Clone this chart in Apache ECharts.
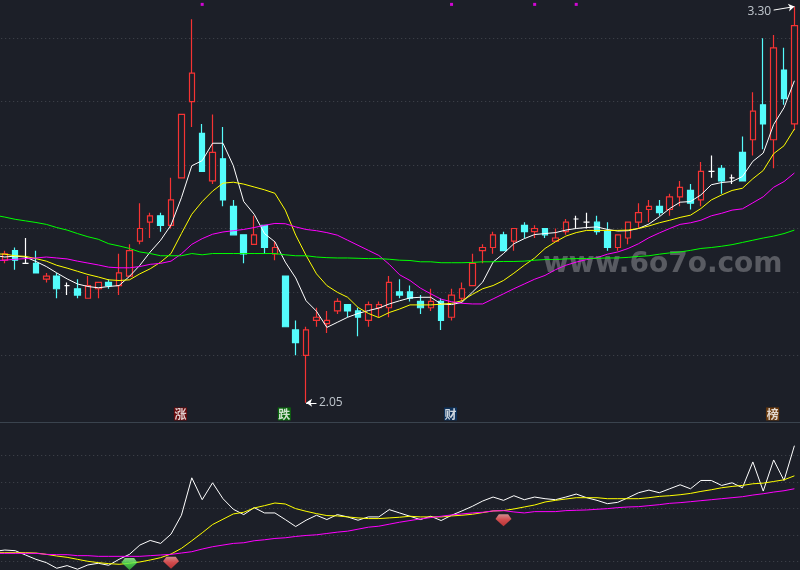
<!DOCTYPE html>
<html><head><meta charset="utf-8">
<style>html,body{margin:0;padding:0;background:#1c1f28;overflow:hidden;width:800px;height:570px}#c{width:811px;height:570px;margin-left:-11px}</style>
<script src="https://cdn.jsdelivr.net/npm/echarts@6/dist/echarts.min.js"></script>
</head><body><div id="c"></div>
<script>
const opens=[2.50,2.53,2.49,2.49,2.44,2.45,2.42,2.41,2.38,2.41,2.43,2.42,2.45,2.56,2.62,2.64,2.61,2.76,3.00,2.90,2.75,2.82,2.67,2.58,2.55,2.61,2.52,2.45,2.28,2.20,2.31,2.30,2.34,2.36,2.34,2.31,2.35,2.35,2.40,2.40,2.37,2.35,2.37,2.32,2.38,2.42,2.53,2.54,2.58,2.56,2.61,2.59,2.60,2.56,2.59,2.63,2.62,2.62,2.59,2.54,2.57,2.62,2.66,2.67,2.66,2.70,2.72,2.69,2.78,2.79,2.76,2.84,2.88,2.99,2.88,3.10,2.93];
const closes=[2.52,2.50,2.49,2.46,2.45,2.41,2.42,2.39,2.42,2.43,2.42,2.46,2.53,2.60,2.64,2.61,2.69,2.96,3.09,2.78,2.84,2.69,2.58,2.52,2.58,2.54,2.54,2.29,2.24,2.28,2.32,2.31,2.37,2.34,2.32,2.36,2.36,2.43,2.39,2.38,2.35,2.37,2.31,2.39,2.41,2.49,2.54,2.58,2.53,2.60,2.59,2.60,2.58,2.57,2.62,2.63,2.62,2.59,2.54,2.58,2.62,2.65,2.67,2.65,2.70,2.73,2.68,2.78,2.78,2.75,2.76,2.75,2.97,2.93,3.17,3.01,3.24];
const lows=[2.49,2.47,2.49,2.46,2.43,2.38,2.39,2.38,2.38,2.38,2.41,2.39,2.45,2.55,2.57,2.59,2.60,2.76,2.92,2.78,2.74,2.67,2.58,2.49,2.55,2.52,2.50,2.29,2.20,2.05,2.29,2.27,2.33,2.32,2.26,2.29,2.32,2.32,2.38,2.37,2.33,2.34,2.28,2.31,2.37,2.42,2.49,2.52,2.53,2.53,2.57,2.57,2.57,2.56,2.58,2.60,2.60,2.58,2.53,2.53,2.55,2.60,2.62,2.64,2.64,2.67,2.66,2.67,2.76,2.71,2.74,2.75,2.83,2.85,2.79,2.99,2.91];
const highs=[2.53,2.54,2.57,2.53,2.46,2.46,2.43,2.44,2.45,2.43,2.44,2.52,2.55,2.68,2.65,2.65,2.76,2.96,3.26,2.93,2.96,2.92,2.69,2.58,2.64,2.61,2.56,2.45,2.31,2.29,2.35,2.34,2.38,2.36,2.35,2.37,2.37,2.45,2.44,2.42,2.39,2.41,2.38,2.41,2.43,2.52,2.55,2.59,2.59,2.60,2.62,2.61,2.60,2.60,2.63,2.64,2.65,2.64,2.62,2.58,2.62,2.68,2.69,2.69,2.71,2.75,2.74,2.81,2.83,2.80,2.77,2.89,3.03,3.20,3.21,3.17,3.30];
const ma5=[2.515,2.510,2.513,2.510,2.496,2.480,2.460,2.441,2.425,2.417,2.413,2.417,2.420,2.449,2.484,2.526,2.563,2.611,2.697,2.798,2.814,2.869,2.869,2.798,2.685,2.645,2.584,2.558,2.494,2.444,2.372,2.339,2.288,2.304,2.320,2.332,2.341,2.349,2.362,2.372,2.381,2.383,2.383,2.362,2.360,2.367,2.399,2.431,2.494,2.521,2.552,2.568,2.581,2.584,2.587,2.595,2.600,2.603,2.605,2.597,2.592,2.593,2.600,2.614,2.637,2.663,2.683,2.685,2.706,2.738,2.745,2.748,2.764,2.812,2.838,2.928,2.981,3.066];
const ma10=[2.520,2.519,2.514,2.512,2.505,2.497,2.484,2.475,2.465,2.455,2.447,2.438,2.436,2.438,2.457,2.473,2.494,2.521,2.584,2.645,2.685,2.718,2.743,2.746,2.740,2.731,2.722,2.711,2.658,2.579,2.515,2.457,2.420,2.399,2.383,2.351,2.332,2.319,2.335,2.346,2.359,2.359,2.359,2.361,2.364,2.372,2.392,2.410,2.420,2.436,2.459,2.484,2.507,2.537,2.558,2.576,2.587,2.594,2.594,2.594,2.594,2.595,2.600,2.608,2.618,2.626,2.635,2.642,2.663,2.690,2.706,2.720,2.727,2.757,2.783,2.836,2.861,2.914];
const ma20=[2.499,2.500,2.503,2.505,2.507,2.510,2.507,2.504,2.497,2.491,2.485,2.478,2.476,2.476,2.480,2.487,2.490,2.497,2.520,2.550,2.568,2.582,2.589,2.593,2.597,2.603,2.610,2.616,2.615,2.605,2.597,2.593,2.587,2.579,2.563,2.547,2.531,2.515,2.487,2.454,2.436,2.412,2.394,2.377,2.369,2.364,2.362,2.362,2.378,2.394,2.410,2.425,2.440,2.452,2.470,2.484,2.494,2.502,2.508,2.519,2.526,2.537,2.552,2.571,2.586,2.600,2.613,2.618,2.626,2.640,2.648,2.658,2.662,2.681,2.700,2.730,2.748,2.775];
const ma60=[2.642,2.636,2.629,2.624,2.619,2.613,2.603,2.595,2.584,2.574,2.566,2.552,2.545,2.537,2.526,2.521,2.514,2.514,2.514,2.521,2.517,2.521,2.521,2.521,2.521,2.521,2.521,2.521,2.517,2.514,2.514,2.510,2.508,2.507,2.507,2.506,2.505,2.505,2.503,2.500,2.499,2.495,2.495,2.492,2.492,2.492,2.493,2.495,2.495,2.496,2.496,2.497,2.500,2.502,2.502,2.504,2.505,2.505,2.506,2.507,2.507,2.509,2.512,2.514,2.519,2.523,2.526,2.531,2.537,2.540,2.544,2.549,2.556,2.563,2.570,2.576,2.584,2.595];
const subWhite=[130,134,132,119,106,96,79,87,76,89,94,88,106,121,149,163,154,182,239,352,286,337,289,257,241,262,246,246,226,205,224,239,226,241,234,224,234,234,256,246,236,226,236,223,239,252,266,282,294,284,298,286,294,289,286,294,303,292,284,274,278,292,307,315,307,319,331,319,344,344,329,337,322,400,312,406,344,449];
const subYellow=[126,126,126,126,125,121,116,112,106,100,96,93,91,94,98,104,111,122,139,162,186,211,227,243,248,261,268,276,273,259,251,244,238,237,234,231,229,229,231,233,236,234,234,234,237,239,242,247,252,253,258,264,270,279,284,288,292,292,292,289,289,289,289,292,296,298,301,305,311,316,322,326,329,334,336,341,346,358];
const subMagenta=[124,124,124,124,124,121,120,120,117,117,115,115,115,115,115,117,119,121,125,129,137,144,149,154,156,162,165,169,171,175,178,180,184,188,191,197,203,206,212,218,223,228,232,236,240,243,246,248,252,253,249,246,250,250,250,253,254,255,257,259,262,264,265,268,271,275,277,280,283,286,289,292,295,300,304,309,313,319];
const dotIdx=[19,43,51,55];
const tagIdx=[17,27,43,74];
const tagText=['涨','跌','财','榜'];
const tagColors=['#7b0505','#067a06','#0b3768','#7e4005'];
const greenGem=[[12,92]];
const redGem=[[16,96],[48,224]];
const lowIdx=29, lowVal=2.05, highIdx=76, highVal=3.30;
const wmText='www.6o7o.com';
// one lead-in bar sits just off the left edge so the averages reach x=0
const LEAD=1, SUB_BASE=20, SHIFT=11;
const categories=['lead'].concat(opens.map((_,i)=>String(i)));

const BG='#1c1f28',RED='#f53333',CYAN='#54fcfc';
const gem='path://M5 0 L19 0 L24 7 L12 18 L0 7 Z';
const sub=a=>a.map(v=>v-SUB_BASE);
const at=(i,v)=>[i+LEAD,v];
const line=(name,data,color,x)=>({name,type:'line',data,xAxisIndex:x,yAxisIndex:x,showSymbol:false,symbol:'none',smooth:false,silent:true,z:4,clip:false,
  lineStyle:{color,width:1}});
const chart=echarts.init(document.getElementById('c'),null,{renderer:'canvas'});
const split=(minLine)=>({show:true,lineStyle:{color:'#43474f',type:[1,3],width:1},showMinLine:minLine,showMaxLine:false});
const xa=(i)=>({type:'category',gridIndex:i,data:categories,boundaryGap:true,axisLine:{show:false},axisTick:{show:false},axisLabel:{show:false},splitLine:{show:false}});
chart.setOption({
  animation:false,backgroundColor:BG,
  grid:[{left:0.2,width:810.4,top:0,height:418.7},{left:0.2,width:810.4,top:428.8,height:132.5}],
  xAxis:[xa(0),xa(1)],
  yAxis:[
    {type:'value',gridIndex:0,min:2.0,max:3.3208,interval:0.2,axisLine:{show:false},axisTick:{show:false},axisLabel:{show:false},splitLine:split(false)},
    {type:'value',gridIndex:1,min:80,max:480,interval:80,axisLine:{show:false},axisTick:{show:false},axisLabel:{show:false},splitLine:split(true)}
  ],
  graphic:[
    {type:'rect',silent:true,z:1,shape:{x:0,y:422,width:811,height:1},style:{fill:'#3a434e'}},
    {type:'text',silent:true,z:1,x:543+SHIFT,y:251,style:{text:wmText,fill:'rgba(255,255,255,0.27)',font:'bold 28px "DejaVu Sans"'}}
  ],
  series:[
    {type:'candlestick',xAxisIndex:0,yAxisIndex:0,barWidth:6,z:3,silent:true,clip:false,
     data:[['-','-','-','-']].concat(opens.map((o,i)=>[o,closes[i],lows[i],highs[i]])),
     itemStyle:{color:BG,color0:CYAN,borderColor:RED,borderColor0:CYAN,borderColorDoji:'#ffffff',borderWidth:1.2}},
    line('MA5',ma5,'#ffffff',0),
    line('MA10',ma10,'#ffff00',0),
    line('MA20',ma20,'#ff00ff',0),
    line('MA60',ma60,'#00ff00',0),
    {type:'scatter',xAxisIndex:0,yAxisIndex:0,symbol:'rect',symbolSize:3,silent:true,z:5,itemStyle:{color:'#ff00ff'},data:dotIdx.map(i=>at(i,3.307))},
    {type:'scatter',xAxisIndex:0,yAxisIndex:0,symbolSize:1,silent:true,z:6,itemStyle:{color:'rgba(0,0,0,0)'},
     data:tagIdx.map((i,k)=>({value:at(i,2.015),name:tagText[k],label:{backgroundColor:tagColors[k]}})),
     label:{show:true,position:'inside',formatter:p=>p.name,color:'#ffffff',fontWeight:'bold',fontFamily:'"Noto Sans CJK SC"',fontSize:12,width:13,height:13,lineHeight:13,align:'center',verticalAlign:'middle',offset:[-1,0]}},
    {type:'scatter',xAxisIndex:0,yAxisIndex:0,symbolSize:1,silent:true,z:6,itemStyle:{color:'rgba(0,0,0,0)'},
     data:[{value:at(lowIdx+1,lowVal),name:lowVal.toFixed(2),label:{position:'right',distance:2}},{value:at(highIdx-2,3.283),name:highVal.toFixed(2),label:{position:'left',distance:2}}],
     label:{show:true,formatter:p=>p.name,color:'#e6eef4',fontFamily:'"Open Sans"',fontSize:12}},
    {type:'line',xAxisIndex:0,yAxisIndex:0,data:[],silent:true,z:6,
     markLine:{silent:true,animation:false,symbol:['none','arrow'],symbolSize:6,label:{show:false},lineStyle:{color:'#ffffff',width:1,type:'solid'},
       data:[[{coord:at(lowIdx+1,lowVal)},{coord:at(lowIdx,lowVal)}],[{coord:at(highIdx-2,3.289)},{coord:at(highIdx,highVal)}]]}},
    line('W',sub(subWhite),'#ffffff',1),
    line('Y',sub(subYellow),'#ffff00',1),
    line('M',sub(subMagenta),'#ff00ff',1),
    {type:'scatter',xAxisIndex:1,yAxisIndex:1,symbol:gem,symbolSize:[16,12],silent:true,z:7,clip:false,itemStyle:{color:new echarts.graphic.LinearGradient(0,0,0,1,[{offset:0,color:'#a8ff98'},{offset:.45,color:'#55e855'},{offset:1,color:'#35b835'}])},data:greenGem.map(d=>at(d[0],d[1]-SUB_BASE))},
    {type:'scatter',xAxisIndex:1,yAxisIndex:1,symbol:gem,symbolSize:[16,12],silent:true,z:7,clip:false,itemStyle:{color:new echarts.graphic.LinearGradient(0,0,0,1,[{offset:0,color:'#ffa8a8'},{offset:.45,color:'#ff5a5a'},{offset:1,color:'#dd3838'}])},data:redGem.map(d=>at(d[0],d[1]-SUB_BASE))}
  ]
});
</script></body></html>
